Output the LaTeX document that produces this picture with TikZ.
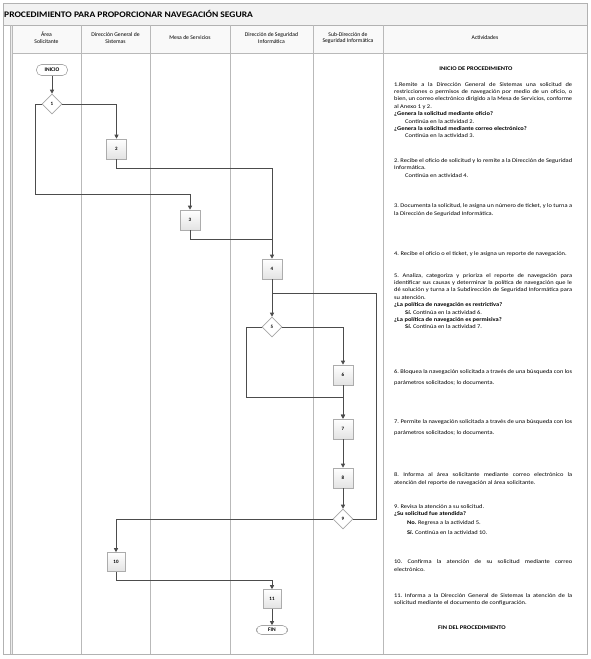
\documentclass[tikz,border=0pt]{standalone}
\usepackage{fontspec}
\setmainfont{Carlito}
\newfontfamily\actfont[FakeStretch=1.15]{Carlito}
\newfontfamily\titlefont[FakeStretch=1.12]{Carlito}
\usetikzlibrary{shapes.geometric,arrows.meta}
\tikzset{
  frameline/.style={draw=gray!60, line width=0.7pt},
  laneline/.style={draw=gray!55, line width=0.6pt},
  stepbox/.style={draw=gray!65, rectangle, minimum width=20pt, minimum height=20pt, inner sep=0pt,
     top color=white, bottom color=gray!22, line width=0.6pt, font=\fontsize{5}{6}\selectfont\bfseries},
  decision/.style={draw=gray!70, diamond, fill=white, minimum width=20pt, minimum height=20pt, inner sep=0pt,
     line width=0.6pt, font=\fontsize{5}{6}\selectfont\bfseries},
  terminal/.style={draw=gray!70, rectangle, rounded corners=5pt, minimum width=31pt, minimum height=11pt,
     inner sep=0pt, fill=white, line width=0.6pt, font=\fontsize{5.5}{6}\selectfont\bfseries},
  flow/.style={draw=black!70, line width=0.7pt},
  arr/.style={flow, -{Triangle[length=4pt,width=4pt]}},
  head/.style={align=center, font=\fontsize{5.7}{6.8}\selectfont, inner sep=0pt},
  act/.style={anchor=base west, inner sep=0pt},
}
\newcommand{\actbox}[2]{\parbox[t]{178pt}{\actfont\frenchspacing\fontsize{5.6}{#1}\selectfont #2}}
\newcommand{\jl}[1]{\makebox[178pt][s]{#1}}
\begin{document}
\begin{tikzpicture}[x=1pt,y=-1pt]
\useasboundingbox (0,0) rectangle (590,659);
% title and header backgrounds
\fill[gray!10] (3,3) rectangle (587,25);
\fill[gray!5] (12,25) rectangle (587,53);
\fill[gray!15] (10,25) rectangle (12,654);
% frame
\draw[frameline] (3,3) rectangle (587,654);
\draw[frameline] (3,25) -- (587,25);
\draw[laneline] (12,53) -- (587,53);
\draw[laneline] (10,25) -- (10,654);
\foreach \xx in {12,81,150,230,313,383} \draw[laneline] (\xx,25) -- (\xx,654);
\node[anchor=base west, inner sep=0pt, font=\titlefont\fontsize{8.5}{9}\selectfont\bfseries] (title) at (4,17) {PROCEDIMIENTO PARA PROPORCIONAR NAVEGACIÓN SEGURA};
% header
\node[head] (h1) at (46.5,38) {Área\\Solicitante};
\node[head] (h2) at (115.5,38) {Dirección General de\\Sistemas};
\node[head] (h3) at (190,38) {Mesa de Servicios};
\node[head] (h4) at (271.5,38) {Dirección de Seguridad\\Informática};
\node[head] (h5) at (348,38) {Sub-Dirección de\\Seguridad Informática};
\node[head] (h6) at (485,38) {Actividades};
% flow nodes
\node[terminal] (inicio) at (52,70) {INICIO};
\node[decision] (d1) at (52,104) {1};
\node[stepbox] (b2) at (116.5,149) {2};
\node[stepbox] (b3) at (190,220) {3};
\node[stepbox] (b4) at (272,269) {4};
\node[decision] (d5) at (272,327) {5};
\node[stepbox] (b6) at (343,375) {6};
\node[stepbox] (b7) at (343,429) {7};
\node[stepbox] (b8) at (343,478) {8};
\node[decision] (d9) at (343,519) {9};
\node[stepbox, minimum width=18pt, minimum height=19pt] (b10) at (116,562) {10};
\node[stepbox, minimum width=18pt, minimum height=19pt] (b11) at (272,599) {11};
\node[terminal, minimum height=9pt] (fin) at (272,630) {FIN};
% helper coordinates
\coordinate (c1) at (35,194);
\coordinate (c2) at (272,168);
\coordinate (c3) at (272,239);
\coordinate (c5) at (246,397);
\coordinate (c9) at (376,293);
\coordinate (c10) at (116,580);
% connectors
\draw[arr] (inicio) -- (d1);
\draw[arr] (d1.east) -| (b2.north);
\draw[arr] (d1.west) -| (c1) -| (b3.north);
\draw[flow] (b2.south) |- (c2) -- (c3);
\draw[arr] (b3.south) |- (c3) -- (b4.north);
\draw[arr] (b4) -- (d5);
\draw[arr] (d5.east) -| (b6.north);
\draw[arr] (d5.west) -| (c5) -| (b7.north);
\draw[arr] (b6) -- (b7);
\draw[arr] (b7) -- (b8);
\draw[arr] (b8) -- (d9);
\draw[flow] (d9.east) -| (c9) -- (c9 -| d5);
\draw[arr] (d9.west) -| (b10.north);
\draw[arr] (b10.south) -- (c10) -| (b11.north);
\draw[arr] (b11) -- (fin);
% activities
\node[anchor=base, inner sep=0pt, font=\actfont\fontsize{5.6}{6}\selectfont\bfseries] (ini) at (476,70) {INICIO DE PROCEDIMIENTO};
\node[act] (a1) at (394,86) {\actbox{7.4}{\jl{1.Remite a la Dirección General de Sistemas una solicitud de}\\
\jl{restricciones o permisos de navegación por medio de un oficio, o}\\
\jl{bien, un correo electrónico dirigido a la Mesa de Servicios, conforme}\\
al Anexo 1 y 2.\\
\textbf{¿Genera la solicitud mediante oficio?}\\
\hspace*{11pt}Continúa en la actividad 2.\\
\textbf{¿Genera la solicitud mediante correo electrónico?}\\
\hspace*{11pt}Continúa en la actividad 3.}};
\node[act] (a2) at (394,162) {\actbox{7.8}{\jl{2. Recibe el oficio de solicitud y lo remite a la Dirección de Seguridad}\\
Informática.\\
\hspace*{11pt}Continúa en actividad 4.}};
\node[act] (a3) at (394,207.5) {\actbox{7.5}{\jl{3. Documenta la solicitud, le asigna un número de ticket, y lo turna a}\\
la Dirección de Seguridad Informática.}};
\node[act] (a4) at (394,255) {\actbox{7.5}{4. Recibe el oficio o el ticket, y le asigna un reporte de navegación.}};
\node[act] (a5) at (394,277) {\actbox{7.4}{\jl{5. Analiza, categoriza y prioriza el reporte de navegación para}\\
\jl{identificar sus causas y determinar la política de navegación que le}\\
\jl{dé solución y turna a la Subdirección de Seguridad Informática para}\\
su atención.\\
\textbf{¿La política de navegación es restrictiva?}\\
\hspace*{11pt}\textbf{Sí.} Continúa en la actividad 6.\\
\textbf{¿La política de navegación es permisiva?}\\
\hspace*{11pt}\textbf{Sí.} Continúa en la actividad 7.}};
\node[act] (a6) at (394,373.5) {\actbox{10.5}{\jl{6. Bloquea la navegación solicitada a través de una búsqueda con los}\\
parámetros solicitados; lo documenta.}};
\node[act] (a7) at (394,423.5) {\actbox{11}{\jl{7. Permite la navegación solicitada a través de una búsqueda con los}\\
parámetros solicitados; lo documenta.}};
\node[act] (a8) at (394,476) {\actbox{8.7}{\jl{8. Informa al área solicitante mediante correo electrónico la}\\
atención del reporte de navegación al área solicitante.}};
\node[act] (a9) at (394,508) {\actbox{7.5}{9. Revisa la atención a su solicitud.\\
\textbf{¿Su solicitud fue atendida?}\\[1.5pt]
\hspace*{13pt}\textbf{No.} Regresa a la actividad 5.\\[2.5pt]
\hspace*{13pt}\textbf{Sí.} Continúa en la actividad 10.}};
\node[act] (a10) at (394,563) {\actbox{8}{\jl{10. Confirma la atención de su solicitud mediante correo}\\
electrónico.}};
\node[act] (a11) at (394,597) {\actbox{7.5}{\jl{11. Informa a la Dirección General de Sistemas la atención de la}\\
solicitud mediante el documento de configuración.}};
\node[anchor=base, inner sep=0pt, font=\actfont\fontsize{5.6}{6}\selectfont\bfseries] (finp) at (472,629) {FIN DEL PROCEDIMIENTO};
\end{tikzpicture}
\end{document}
